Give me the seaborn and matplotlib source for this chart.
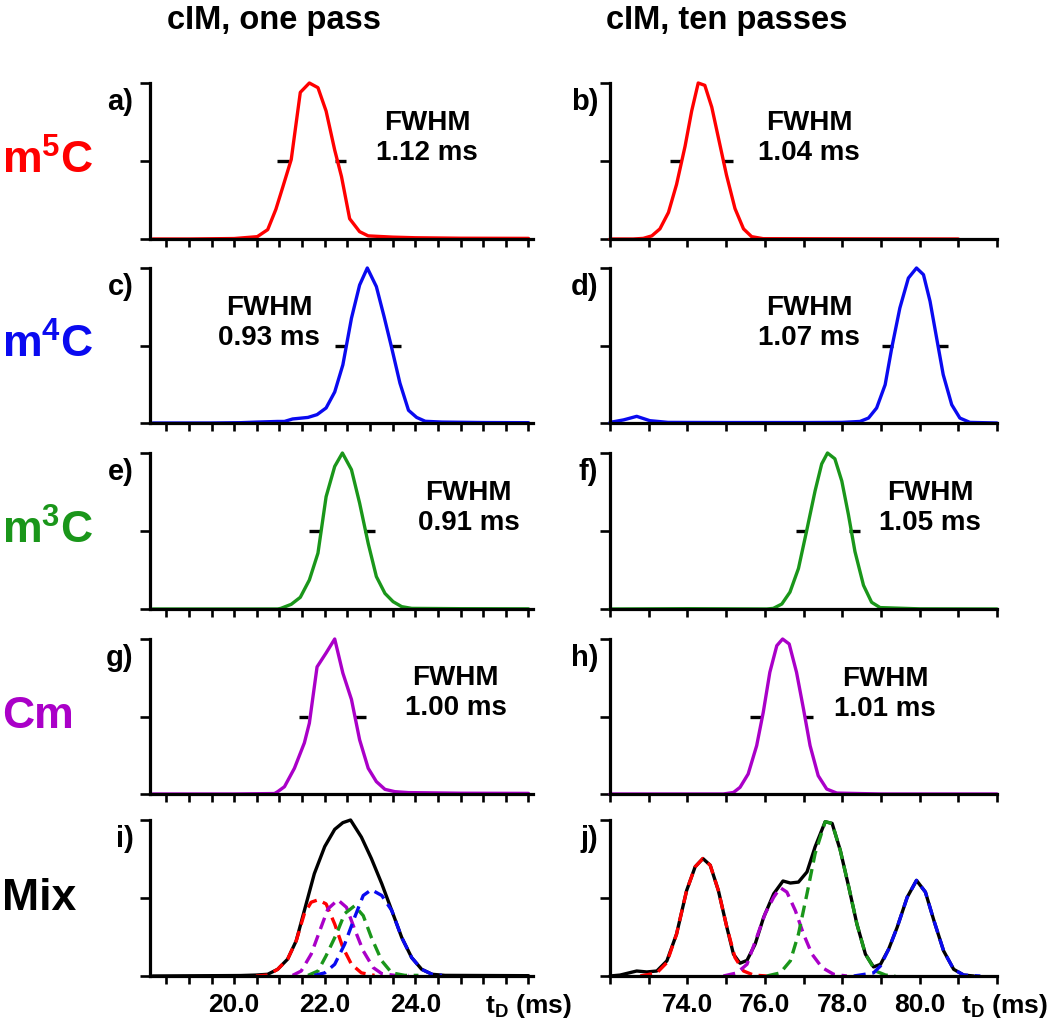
import matplotlib
matplotlib.use("Agg")
import matplotlib.pyplot as plt
import matplotlib.transforms as mtransforms
import seaborn as sns
import numpy as np

# ---------------- data ----------------
# one pass (left column), t_D in ms, normalised intensity
a_x = [18.2, 19.0, 20.0, 20.51, 20.74, 20.92, 21.07, 21.26, 21.46, 21.66, 21.85, 22.03, 22.22, 22.37, 22.55, 22.77, 22.96, 23.5, 24.0, 25.0, 26.5]
a_y = [0, 0, 0.003, 0.015, 0.06, 0.19, 0.33, 0.51, 0.94, 1.0, 0.97, 0.82, 0.57, 0.40, 0.13, 0.047, 0.02, 0.012, 0.008, 0.005, 0.004]

c_x = [18.2, 19.5, 20.14, 20.51, 20.96, 21.11, 21.29, 21.63, 21.83, 22.03, 22.22, 22.40, 22.59, 22.77, 22.94, 23.14, 23.31, 23.48, 23.66, 23.85, 24.03, 24.22, 24.59, 25.5, 26.5]
c_y = [0, 0, 0.002, 0.006, 0.01, 0.01, 0.026, 0.036, 0.054, 0.097, 0.20, 0.375, 0.676, 0.89, 1.0, 0.88, 0.687, 0.483, 0.258, 0.082, 0.036, 0.011, 0.006, 0.003, 0.002]

e_x = [18.2, 20.0, 20.96, 21.03, 21.26, 21.46, 21.66, 21.85, 22.03, 22.22, 22.39, 22.59, 22.77, 22.96, 23.14, 23.33, 23.51, 23.70, 23.92, 25.0, 26.5]
e_y = [0, 0, 0, 0.004, 0.03, 0.075, 0.186, 0.358, 0.72, 0.914, 1.0, 0.893, 0.679, 0.42, 0.208, 0.10, 0.047, 0.015, 0.004, 0.002, 0.001]

g_x = [18.2, 20.0, 20.89, 20.96, 21.11, 21.33, 21.55, 21.66, 21.83, 22.03, 22.22, 22.40, 22.59, 22.77, 22.96, 23.14, 23.33, 23.55, 23.85, 25.0, 26.5]
g_y = [0, 0, 0.003, 0.015, 0.047, 0.166, 0.33, 0.457, 0.82, 0.91, 1.0, 0.78, 0.61, 0.35, 0.166, 0.08, 0.03, 0.015, 0.009, 0.005, 0.004]

# ten passes (right column)
b_x = [72.0, 72.6, 72.86, 73.08, 73.29, 73.51, 73.72, 73.94, 74.11, 74.28, 74.45, 74.63, 74.80, 75.01, 75.23, 75.45, 75.66, 75.96, 78.0, 81.0]
b_y = [0, 0, 0.004, 0.02, 0.065, 0.17, 0.35, 0.595, 0.82, 1.0, 0.985, 0.845, 0.65, 0.41, 0.195, 0.065, 0.015, 0.002, 0.001, 0]

d_x = [72.0, 72.35, 72.69, 73.03, 73.5, 75.0, 77.0, 78.0, 78.46, 78.68, 78.89, 79.11, 79.28, 79.49, 79.71, 79.92, 80.10, 80.27, 80.44, 80.61, 80.83, 81.04, 81.30, 82.0]
d_y = [0.004, 0.02, 0.043, 0.015, 0.004, 0.003, 0.003, 0.004, 0.01, 0.032, 0.097, 0.247, 0.484, 0.742, 0.935, 1.0, 0.957, 0.785, 0.548, 0.312, 0.118, 0.032, 0.004, 0]

f_x = [72.0, 74.0, 76.05, 76.22, 76.44, 76.65, 76.87, 77.08, 77.30, 77.47, 77.62, 77.81, 77.99, 78.16, 78.33, 78.55, 78.76, 78.98, 80.0, 82.0]
f_y = [0, 0.002, 0, 0.004, 0.032, 0.108, 0.26, 0.50, 0.758, 0.93, 1.0, 0.963, 0.82, 0.606, 0.368, 0.152, 0.043, 0.009, 0.001, 0]

h_x = [72.0, 74.93, 75.19, 75.36, 75.57, 75.79, 75.96, 76.13, 76.31, 76.46, 76.63, 76.82, 77.00, 77.17, 77.38, 77.60, 77.86, 79.0, 82.0]
h_y = [0, 0, 0.01, 0.043, 0.129, 0.312, 0.527, 0.785, 0.957, 1.0, 0.968, 0.785, 0.548, 0.312, 0.118, 0.032, 0.006, 0, 0]

# mixture, one pass
i_mix_x = [18.2, 20.14, 20.48, 20.74, 20.96, 21.18, 21.37, 21.55, 21.77, 22.0, 22.22, 22.40, 22.57, 22.81, 23.03, 23.26, 23.48, 23.70, 23.92, 24.14, 24.37, 24.66, 26.5]
i_mix_y = [0, 0.003, 0.006, 0.011, 0.043, 0.108, 0.226, 0.42, 0.656, 0.83, 0.94, 0.983, 1.0, 0.89, 0.753, 0.591, 0.42, 0.247, 0.118, 0.043, 0.011, 0.004, 0.002]
i_m5c_x = [20.48, 20.74, 20.96, 21.18, 21.37, 21.55, 21.70, 21.85, 22.03, 22.22, 22.40, 22.59, 22.81, 23.10]
i_m5c_y = [0.0, 0.006, 0.043, 0.108, 0.226, 0.40, 0.473, 0.488, 0.462, 0.333, 0.183, 0.075, 0.02, 0.004]
i_cm_x = [21.29, 21.48, 21.70, 21.89, 22.07, 22.29, 22.48, 22.66, 22.85, 23.07, 23.26, 23.55, 23.85]
i_cm_y = [0.004, 0.032, 0.14, 0.29, 0.43, 0.488, 0.44, 0.30, 0.161, 0.054, 0.015, 0.004, 0.004]
i_m3c_x = [21.63, 21.85, 22.03, 22.26, 22.44, 22.66, 22.85, 23.03, 23.26, 23.48, 23.77, 24.07]
i_m3c_y = [0.004, 0.032, 0.13, 0.27, 0.40, 0.45, 0.387, 0.247, 0.097, 0.02, 0.004, 0.004]
i_m4c_x = [21.77, 22.0, 22.22, 22.44, 22.66, 22.85, 23.03, 23.26, 23.48, 23.70, 23.92, 24.14, 24.37, 24.59]
i_m4c_y = [0.004, 0.02, 0.075, 0.204, 0.376, 0.516, 0.553, 0.516, 0.42, 0.247, 0.118, 0.043, 0.011, 0.004]

# mixture, ten passes
j_mix_x = [72.0, 72.26, 72.69, 72.95, 73.21, 73.47, 73.72, 73.98, 74.20, 74.40, 74.59, 74.80, 75.02, 75.19, 75.36, 75.54, 75.75, 75.97, 76.23, 76.47, 76.66, 76.87, 77.09, 77.30, 77.56, 77.74, 77.95, 78.17, 78.38, 78.60, 78.81, 78.99, 79.20, 79.42, 79.68, 79.92, 80.15, 80.37, 80.62, 80.88, 81.14, 81.40]
j_mix_y = [0, 0.006, 0.032, 0.026, 0.032, 0.097, 0.269, 0.548, 0.70, 0.753, 0.71, 0.548, 0.312, 0.14, 0.082, 0.10, 0.204, 0.376, 0.527, 0.609, 0.596, 0.602, 0.667, 0.828, 0.989, 0.978, 0.806, 0.57, 0.333, 0.14, 0.058, 0.075, 0.172, 0.312, 0.505, 0.613, 0.538, 0.355, 0.161, 0.043, 0.006, 0]
j_m5c_x = [72.78, 73.21, 73.47, 73.72, 73.98, 74.20, 74.40, 74.59, 74.80, 75.02, 75.23, 75.45, 75.71, 76.05]
j_m5c_y = [0, 0.02, 0.086, 0.269, 0.548, 0.70, 0.753, 0.71, 0.548, 0.312, 0.118, 0.032, 0.006, 0]
j_cm_x = [74.93, 75.28, 75.54, 75.79, 76.01, 76.23, 76.40, 76.57, 76.79, 77.00, 77.22, 77.48, 77.78, 78.12]
j_cm_y = [0, 0.02, 0.075, 0.247, 0.40, 0.505, 0.566, 0.538, 0.419, 0.269, 0.14, 0.054, 0.011, 0]
j_m3c_x = [76.05, 76.40, 76.66, 76.87, 77.09, 77.30, 77.56, 77.74, 77.95, 78.17, 78.38, 78.60, 78.86, 79.12, 79.37]
j_m3c_y = [0, 0.02, 0.097, 0.269, 0.527, 0.785, 0.989, 0.978, 0.806, 0.57, 0.333, 0.14, 0.032, 0.006, 0]
j_m4c_x = [78.30, 78.81, 78.99, 79.20, 79.42, 79.68, 79.92, 80.15, 80.37, 80.62, 80.88, 81.14, 81.57]
j_m4c_y = [0, 0.02, 0.065, 0.172, 0.312, 0.505, 0.613, 0.538, 0.355, 0.161, 0.043, 0.006, 0]

# half-maximum markers: (left stub start, left stub end, right stub start, right stub end)
fwhm_stub_left = [(20.94, 21.21, 22.22, 22.47), (22.22, 22.44, 23.44, 23.69),
                  (21.66, 21.89, 22.87, 23.11), (21.43, 21.63, 22.66, 22.91)]
fwhm_stub_right = [(73.55, 73.83, 74.89, 75.17), (79.02, 79.30, 80.46, 80.74),
                   (76.81, 77.08, 78.18, 78.46), (75.62, 75.92, 77.00, 77.25)]
fwhm_left = ["1.12", "0.93", "0.91", "1.00"]
fwhm_right = ["1.04", "1.07", "1.05", "1.01"]
fwhm_text_left = [(24.26, 0.645), (20.77, 0.645), (25.18, 0.647), (24.89, 0.65)]
fwhm_text_right = [(77.14, 0.65), (77.14, 0.645), (80.27, 0.65), (79.11, 0.645)]

row_names = ["m$^{\\mathbf{5}}$C", "m$^{\\mathbf{4}}$C", "m$^{\\mathbf{3}}$C", "Cm", "Mix"]
col_titles = ["cIM, one pass", "cIM, ten passes"]
left_letters = ["a)", "c)", "e)", "g)", "i)"]
right_letters = ["b)", "d)", "f)", "h)", "j)"]
left_ticks = [18.5 + 0.5 * k for k in range(17)]
left_ticklabels = {20.0: "20.0", 22.0: "22.0", 24.0: "24.0"}
right_ticks = [72.0 + k for k in range(11)]
right_ticklabels = {74.0: "74.0", 76.0: "76.0", 78.0: "78.0", 80.0: "80.0"}

# ---------------- style ----------------
sns.set_theme(style="ticks")
plt.rcParams["font.family"] = ["Liberation Sans", "DejaVu Sans"]
plt.rcParams["mathtext.fontset"] = "custom"
plt.rcParams["mathtext.rm"] = "Liberation Sans"
plt.rcParams["mathtext.bf"] = "Liberation Sans:bold"
plt.rcParams["mathtext.it"] = "Liberation Sans:italic"
for key in ["text.color", "axes.labelcolor", "xtick.color", "ytick.color", "axes.edgecolor"]:
    plt.rcParams[key] = "black"

RED = "#FF0000"
BLUE = "#0A0AF0"
GREEN = "#1A961A"
PURPLE = "#AA00C8"
colors = [RED, BLUE, GREEN, PURPLE, "black"]

W, H = 1050, 1031
fig = plt.figure(figsize=(W / 100, H / 100), dpi=100)

rows_px = [(83, 239), (268, 423), (453, 609), (639, 794), (820, 976)]
left_px = (150, 533)
right_px = (610, 997)

LW = 2.4
DASH = (0, (3.6, 2.0))


def make_ax(xpx, ypx):
    x0, x1 = xpx
    t, b = ypx
    return fig.add_axes([x0 / W, 1 - b / H, (x1 - x0) / W, (b - t) / H])


def style_ax(ax, xlim, ticks, labels, show_labels):
    ax.set_xlim(*xlim)
    ax.set_ylim(0, 1.0)
    ax.set_facecolor("none")
    for s in ["top", "right"]:
        ax.spines[s].set_visible(False)
    for s in ["left", "bottom"]:
        ax.spines[s].set_linewidth(2.3)
        ax.spines[s].set_color("black")
        ax.spines[s].set_capstyle("projecting")
    ax.set_yticks([0, 0.5, 1.0])
    ax.set_yticklabels([])
    ax.set_xticks(ticks)
    if show_labels:
        ax.set_xticklabels([labels.get(t, "") for t in ticks])
    else:
        ax.set_xticklabels([])
    ax.tick_params(axis="y", direction="out", length=7, width=1.9, color="black")
    ax.tick_params(axis="x", direction="out", length=5.5, width=1.9, color="black",
                   pad=7, labelsize=19, labelcolor="black")
    for lab in ax.get_xticklabels():
        lab.set_fontweight("bold")
    ax.set_xlabel("")
    ax.set_ylabel("")
    ax.grid(False)


left_single = [(a_x, a_y), (c_x, c_y), (e_x, e_y), (g_x, g_y)]
right_single = [(b_x, b_y), (d_x, d_y), (f_x, f_y), (h_x, h_y)]

for r in range(5):
    axl = make_ax(left_px, rows_px[r])
    axr = make_ax(right_px, rows_px[r])
    last = r == 4
    if not last:
        for ax, (xs, ys), stubs, (tx, ty), val in [
                (axl, left_single[r], fwhm_stub_left[r], fwhm_text_left[r], fwhm_left[r]),
                (axr, right_single[r], fwhm_stub_right[r], fwhm_text_right[r], fwhm_right[r])]:
            ax.hlines([0.5, 0.5], [stubs[0], stubs[2]], [stubs[1], stubs[3]],
                      color="black", lw=LW)
            sns.lineplot(x=xs, y=ys, ax=ax, color=colors[r], lw=LW, clip_on=False)
            ax.text(tx, ty, f"FWHM\n{val} ms", ha="center", va="center",
                    fontsize=20, fontweight="bold", linespacing=1.2, color="black")
    else:
        sns.lineplot(x=i_mix_x, y=i_mix_y, ax=axl, color="black", lw=LW, clip_on=False)
        for (xs, ys, col) in [(i_m5c_x, i_m5c_y, RED), (i_cm_x, i_cm_y, PURPLE),
                              (i_m3c_x, i_m3c_y, GREEN), (i_m4c_x, i_m4c_y, BLUE)]:
            sns.lineplot(x=xs, y=ys, ax=axl, color=col, lw=LW, linestyle=DASH, clip_on=False)
        sns.lineplot(x=j_mix_x, y=j_mix_y, ax=axr, color="black", lw=LW, clip_on=False)
        for (xs, ys, col) in [(j_m5c_x, j_m5c_y, RED), (j_cm_x, j_cm_y, PURPLE),
                              (j_m3c_x, j_m3c_y, GREEN), (j_m4c_x, j_m4c_y, BLUE)]:
            sns.lineplot(x=xs, y=ys, ax=axr, color=col, lw=LW, linestyle=DASH, clip_on=False)

    style_ax(axl, (18.14, 26.6), left_ticks, left_ticklabels, last)
    style_ax(axr, (72.0, 82.0), right_ticks, right_ticklabels, last)

    # panel letters
    axl.text(-0.043, 0.88, left_letters[r], transform=axl.transAxes, ha="right",
             va="center", fontsize=21, fontweight="bold", color="black")
    axr.text(-0.03, 0.88, right_letters[r], transform=axr.transAxes, ha="right",
             va="center", fontsize=21, fontweight="bold", color="black")

    # row labels
    ymid = 1 - (rows_px[r][0] + rows_px[r][1]) / 2 / H
    fig.text(2 / W, ymid, row_names[r], color=colors[r], ha="left", va="center",
             fontsize=32, fontweight="bold")

    if last:
        for ax, xpos in [(axl, 25.54), (axr, 81.06)]:
            trans = mtransforms.blended_transform_factory(ax.transData, ax.transAxes)
            ax.text(xpos, -0.19, "$\\mathbf{t}_{\\mathbf{D}}$ (ms)", transform=trans,
                    ha="left", va="center", fontsize=19, fontweight="bold", color="black")

# column titles
fig.text(274 / W, 1 - 20 / H, col_titles[0], ha="center", va="center",
         fontsize=23.5, fontweight="bold", color="black")
fig.text(727 / W, 1 - 20 / H, col_titles[1], ha="center", va="center",
         fontsize=23.5, fontweight="bold", color="black")

fig.savefig("out.png", dpi=100, facecolor="white")
